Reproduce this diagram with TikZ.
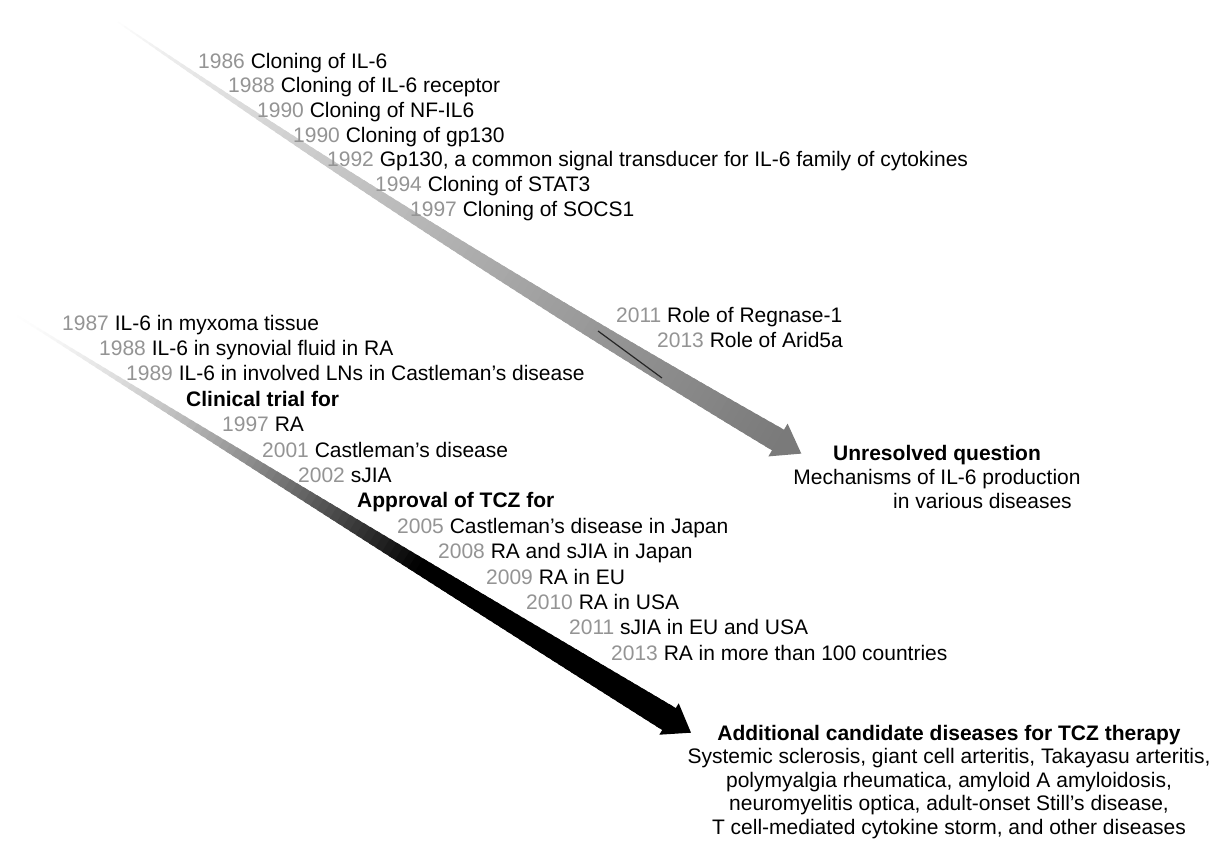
\documentclass[tikz,border=0pt]{standalone}
\usepackage{fontspec}
\setmainfont{Liberation Sans}
\definecolor{yearc}{gray}{0.58}
\newcommand{\yr}[1]{{\color{yearc}#1}}
\newcommand{\fsz}{\fontsize{21pt}{23.5pt}\selectfont}
\tikzset{
  ev/.style={anchor=base west, inner sep=0pt, font=\fsz},
  ctr/.style={anchor=base, inner sep=0pt, font=\fsz},
}
\begin{document}
\begin{tikzpicture}[x=1pt,y=-1pt]
\useasboundingbox (0,0) rectangle (1219,844);
\fill[white] (0,0) rectangle (1219,844);

% ---------- upper arrow (curved, gray gradient) ----------
\coordinate (t1) at (118,22);
\coordinate (c1) at (432,238);
\coordinate (b1) at (778,440);
\coordinate (tip1) at (801.3,453.6);
\coordinate (h1a) at (787.6,423.6);
\coordinate (h1b) at (768.4,456.4);
\foreach \i in {0,...,99}{
  \pgfmathsetmacro{\ta}{\i/100}
  \pgfmathsetmacro{\tb}{(\i+1.6)/100}
  \pgfmathsetmacro{\xa}{(1-\ta)*(1-\ta)*118+2*(1-\ta)*\ta*432+\ta*\ta*778}
  \pgfmathsetmacro{\ya}{(1-\ta)*(1-\ta)*22+2*(1-\ta)*\ta*238+\ta*\ta*440}
  \pgfmathsetmacro{\xb}{(1-\tb)*(1-\tb)*118+2*(1-\tb)*\tb*432+\tb*\tb*778}
  \pgfmathsetmacro{\yb}{(1-\tb)*(1-\tb)*22+2*(1-\tb)*\tb*238+\tb*\tb*440}
  \pgfmathsetmacro{\w}{2*(0.5+11.5*\ta)}
  \pgfmathsetmacro{\p}{52*((\ta+0.005)^0.8)}
  \draw[line width=\w pt, black!\p] (\xa,\ya) -- (\xb,\yb);
}
\fill[black!52] (h1a) -- (tip1) -- (h1b) -- cycle;
\draw[black!85, line width=1.2pt] (598,331) -- (662,378);

% ---------- lower arrow (black gradient) ----------
\coordinate (t2) at (11,312);
\coordinate (c2) at (340,518);
\coordinate (b2) at (669,719);
\coordinate (tip2) at (691,732.7);
\coordinate (h2a) at (678.7,703.3);
\coordinate (h2b) at (659.3,734.7);
\foreach \i in {0,...,99}{
  \pgfmathsetmacro{\ta}{\i/100}
  \pgfmathsetmacro{\tb}{(\i+1.6)/100}
  \pgfmathsetmacro{\xa}{(1-\ta)*(1-\ta)*11+2*(1-\ta)*\ta*340+\ta*\ta*669}
  \pgfmathsetmacro{\ya}{(1-\ta)*(1-\ta)*312+2*(1-\ta)*\ta*518+\ta*\ta*719}
  \pgfmathsetmacro{\xb}{(1-\tb)*(1-\tb)*11+2*(1-\tb)*\tb*340+\tb*\tb*669}
  \pgfmathsetmacro{\yb}{(1-\tb)*(1-\tb)*312+2*(1-\tb)*\tb*518+\tb*\tb*719}
  \pgfmathsetmacro{\w}{2*(0.5+12.5*\ta)}
  \pgfmathsetmacro{\p}{100*((min(1,(\ta+0.005)/0.62))^1.5)}
  \draw[line width=\w pt, black!\p] (\xa,\ya) -- (\xb,\yb);
}
\fill[black] (h2a) -- (tip2) -- (h2b) -- cycle;

% ---------- upper timeline ----------
\node[ev] (u1) at (198,68)    {\yr{1986} Cloning of IL-6};
\node[ev] (u2) at (228,92.7)  {\yr{1988} Cloning of IL-6 receptor};
\node[ev] (u3) at (257,117.4) {\yr{1990} Cloning of NF-IL6};
\node[ev] (u4) at (293,142.1) {\yr{1990} Cloning of gp130};
\node[ev] (u5) at (327,166.8) {\yr{1992} Gp130, a common signal transducer for IL-6 family of cytokines};
\node[ev] (u6) at (375,191.5) {\yr{1994} Cloning of STAT3};
\node[ev] (u7) at (410,216.2) {\yr{1997} Cloning of SOCS1};
\node[ev] (r1) at (616,322)   {\yr{2011} Role of Regnase-1};
\node[ev] (r2) at (657,347)   {\yr{2013} Role of Arid5a};

% ---------- lower timeline ----------
\node[ev] (l1)  at (62,330)    {\yr{1987} IL-6 in myxoma tissue};
\node[ev] (l2)  at (99,355.4)  {\yr{1988} IL-6 in synovial fluid in RA};
\node[ev] (l3)  at (126,380.8) {\yr{1989} IL-6 in involved LNs in Castleman’s disease};
\node[ev] (l4)  at (186,406.2) {\textbf{Clinical trial for}};
\node[ev] (l5)  at (222,431.6) {\yr{1997} RA};
\node[ev] (l6)  at (262,457)   {\yr{2001} Castleman’s disease};
\node[ev] (l7)  at (298,482.4) {\yr{2002} sJIA};
\node[ev] (l8)  at (357,507.8) {\textbf{Approval of TCZ for}};
\node[ev] (l9)  at (397,533.2) {\yr{2005} Castleman’s disease in Japan};
\node[ev] (l10) at (438,558.6) {\yr{2008} RA and sJIA in Japan};
\node[ev] (l11) at (486,584)   {\yr{2009} RA in EU};
\node[ev] (l12) at (526,609.4) {\yr{2010} RA in USA};
\node[ev] (l13) at (569,634.8) {\yr{2011} sJIA in EU and USA};
\node[ev] (l14) at (611,660.2) {\yr{2013} RA in more than 100 countries};

% ---------- outcomes ----------
\node[ctr] (q1) at (937,460) {\textbf{Unresolved question}};
\node[ctr] (q2) at (937,484) {Mechanisms of IL-6 production};
\node[ev]  (q3) at (893,508) {in various diseases};

\node[ctr] (a1) at (949,740)   {\textbf{Additional candidate diseases for TCZ therapy}};
\node[ctr] (a2) at (949,763.5) {Systemic sclerosis, giant cell arteritis, Takayasu arteritis,};
\node[ctr] (a3) at (949,787)   {polymyalgia rheumatica, amyloid A amyloidosis,};
\node[ctr] (a4) at (949,810.5) {neuromyelitis optica, adult-onset Still’s disease,};
\node[ctr] (a5) at (949,834)   {T cell-mediated cytokine storm, and other diseases};
\end{tikzpicture}
\end{document}
